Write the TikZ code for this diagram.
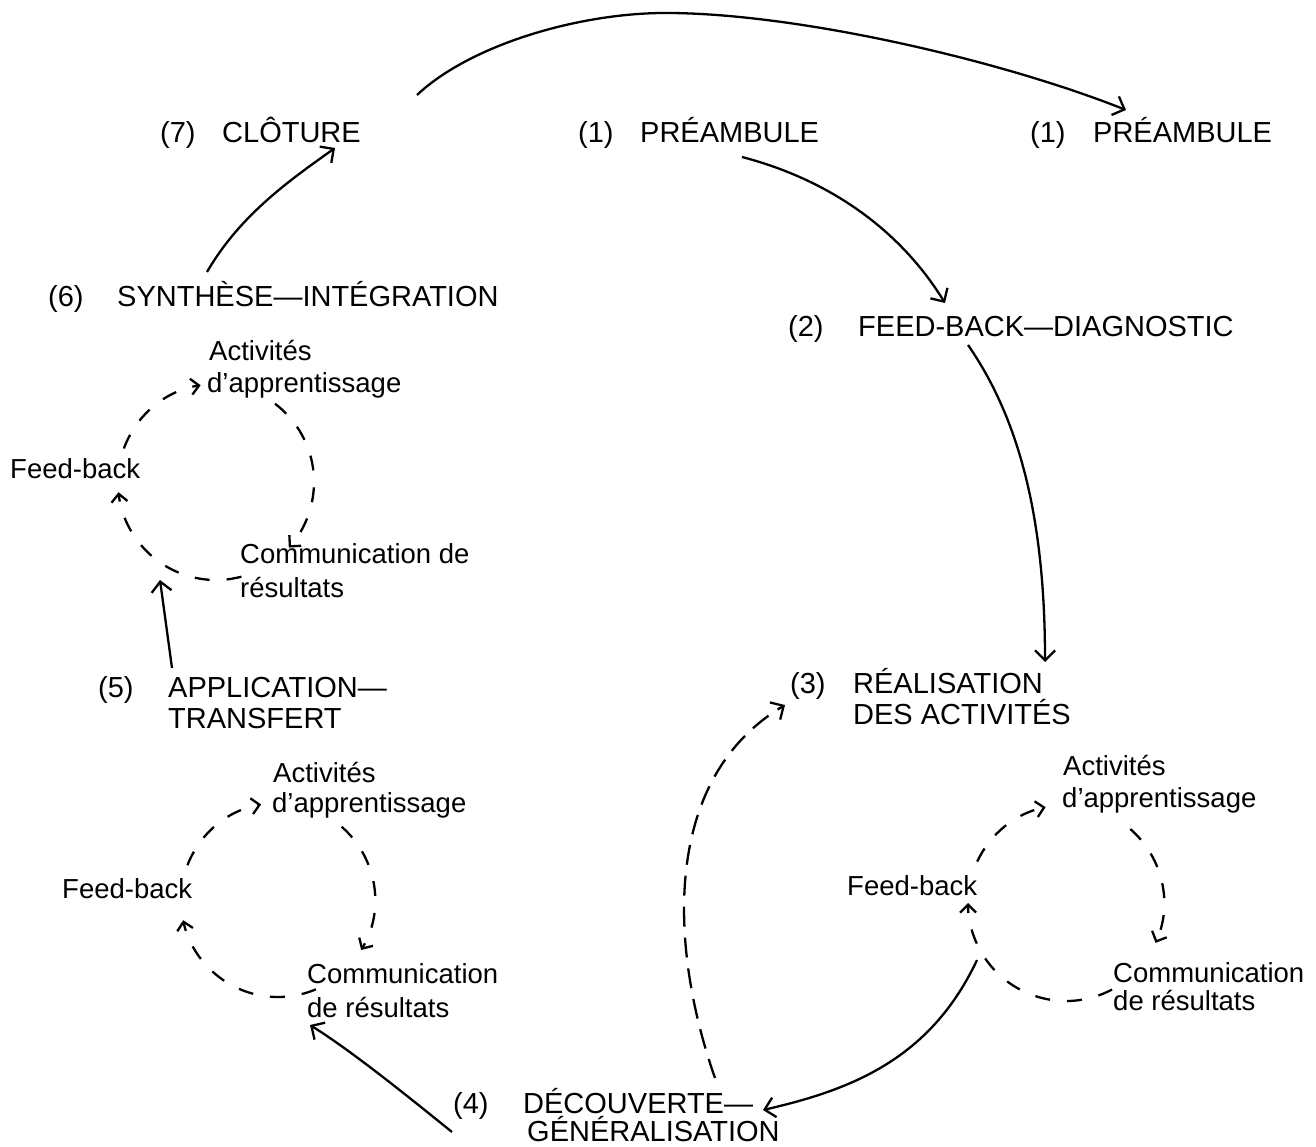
\documentclass[tikz,border=0pt]{standalone}
\usepackage{fontspec}
\setmainfont{Liberation Sans}
\usetikzlibrary{arrows.meta}
\begin{document}
\begin{tikzpicture}[x=1pt,y=-1pt,
  hd/.style={anchor=base west,inner sep=0pt,font=\fontsize{29}{34}\selectfont},
  lb/.style={anchor=base west,inner sep=0pt,font=\fontsize{27.5}{32}\selectfont},
  con/.style={line width=2.3pt,-{Straight Barb[length=10pt,width=20pt,line width=2.3pt]}},
  dcon/.style={con,dash pattern=on 20pt off 11pt},
  cyc/.style={line width=2.3pt,dash pattern=on 15pt off 17pt,-{Straight Barb[length=8pt,width=16pt,line width=2.3pt]}},
  ]
\useasboundingbox (0,0) rectangle (1316,1147);
% headings
\node[hd] (n7) at (160,143) {(7)};
\node[hd] (clo) at (222,143) {CLÔTURE};
\node[hd] (n1a) at (578,143) {(1)};
\node[hd] (prea) at (640,143) {PRÉAMBULE};
\node[hd] (n1b) at (1030,143) {(1)};
\node[hd] (preb) at (1093,143) {PRÉAMBULE};
\node[hd] (n6) at (48,306) {(6)};
\node[hd] (syn) at (117,306) {SYNTHÈSE—INTÉGRATION};
\node[hd] (n2) at (788,336) {(2)};
\node[hd] (fbd) at (858,336) {FEED-BACK—DIAGNOSTIC};
\node[hd] (n5) at (98,697) {(5)};
\node[hd] (appa) at (168,697) {APPLICATION—};
\node[hd] (appb) at (168,728) {TRANSFERT};
\node[hd] (n3) at (790,693) {(3)};
\node[hd] (reaa) at (853,693) {RÉALISATION};
\node[hd] (reab) at (853,724) {DES ACTIVITÉS};
\node[hd] (n4) at (453,1113) {(4)};
\node[hd] (deca) at (523,1113) {DÉCOUVERTE—};
\node[hd] (decb) at (527,1141) {GÉNÉRALISATION};
% cluster 1
\node[lb] (acta) at (209,360) {Activités};
\node[lb] (appra) at (207,392) {d’apprentissage};
\node[lb] (fba) at (10,478) {Feed-back};
\node[lb] (coma) at (240,563) {Communication de};
\node[lb] (resa) at (240,597) {résultats};
% cluster 2
\node[lb] (actb) at (273,782) {Activités};
\node[lb] (apprb) at (272,812) {d’apprentissage};
\node[lb] (fbb) at (62,898) {Feed-back};
\node[lb] (comb) at (307,983) {Communication};
\node[lb] (resb) at (307,1017) {de résultats};
% cluster 3
\node[lb] (actc) at (1063,775) {Activités};
\node[lb] (apprc) at (1062,807) {d’apprentissage};
\node[lb] (fbc) at (847,895) {Feed-back};
\node[lb] (comc) at (1113,982) {Communication};
\node[lb] (resc) at (1113,1010) {de résultats};
% cycle centres
\coordinate (ca) at (216,482);
\coordinate (cb) at (278,900);
\coordinate (cc) at (1066,903);
\draw[cyc] (ca) ++(-160:98) arc[start angle=-160,end angle=-99,radius=98];
\draw[cyc] (ca) ++(-53:98) arc[start angle=-53,end angle=42,radius=98];
\draw[cyc] (ca) ++(75:98) arc[start angle=75,end angle=174,radius=98];
\draw[cyc] (cb) ++(-159:97) arc[start angle=-159,end angle=-100,radius=97];
\draw[cyc] (cb) ++(-49:97) arc[start angle=-49,end angle=31,radius=97];
\draw[cyc] (cb) ++(67:97) arc[start angle=67,end angle=168,radius=97];
\draw[cyc] (cc) ++(-155:98) arc[start angle=-155,end angle=-102,radius=98];
\draw[cyc] (cc) ++(-49:98) arc[start angle=-49,end angle=24,radius=98];
\draw[cyc] (cc) ++(62:98) arc[start angle=62,end angle=180,radius=98];
% connector end points
\coordinate (s7) at (417,95);
\coordinate (e7) at (1126,110);
\coordinate (s1) at (742,157);
\coordinate (e1) at (945,303);
\coordinate (s2) at (968,345);
\coordinate (e2) at (1045,662);
\coordinate (s3) at (977,960);
\coordinate (e3) at (763,1110);
\coordinate (s4) at (715,1078);
\coordinate (e4) at (785,705);
\coordinate (s5) at (452,1132);
\coordinate (e5) at (310,1025);
\coordinate (s6) at (172,668);
\coordinate (e6) at (160,580);
\coordinate (s8) at (207,272);
\coordinate (e8) at (335,148);
% connectors
\draw[con] (s7) .. controls (470,45) and (580,12) .. (670,13) .. controls (800,14) and (1000,60) .. (e7);
\draw[con] (s1) .. controls (830,180) and (900,230) .. (e1);
\draw[con] (s2) .. controls (1020,420) and (1045,520) .. (e2);
\draw[con] (s3) .. controls (930,1060) and (850,1090) .. (e3);
\draw[dcon] (s4) .. controls (670,950) and (660,780) .. (e4);
\draw[con] (s5) .. controls (400,1090) and (350,1050) .. (e5);
\draw[con] (s6) -- (e6);
\draw[con] (s8) .. controls (240,215) and (290,180) .. (e8);
\end{tikzpicture}
\end{document}
